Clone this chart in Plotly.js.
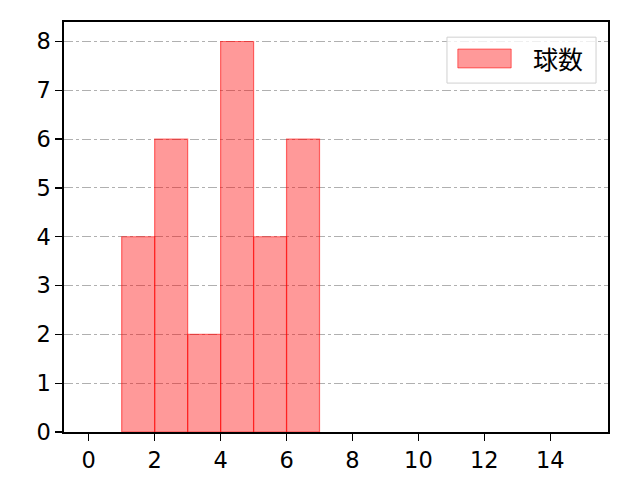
<!DOCTYPE html>
<html>
<head>
<meta charset="utf-8">
<script src="https://cdn.plot.ly/plotly-3.0.1.min.js"></script>
<style>
  html, body { margin: 0; padding: 0; background: white; }
  #chart { width: 640px; height: 480px; }
</style>
</head>
<body>
<div id="chart"></div>
<script>
// histogram bins (left edge, width 1) and counts
const binLeft = [1, 2, 3, 4, 5, 6];
const counts = [4, 6, 2, 8, 4, 6];
const seriesName = '球数';
const xTicks = [0, 2, 4, 6, 8, 10, 12, 14];
const yTicks = [0, 1, 2, 3, 4, 5, 6, 7, 8];

const FONT = '"Noto Sans CJK JP", "DejaVu Sans", sans-serif';
const TICK_FONT = '"DejaVu Sans", sans-serif';

const bars = {
    type: 'bar',
    x: binLeft,
    y: counts,
    width: binLeft.map(() => 1),
    offset: 0,
    name: seriesName,
    marker: {
        color: 'rgba(255, 0, 0, 0.4)',
        line: { color: 'rgba(255, 0, 0, 0.55)', width: 1.2 }
    },
    showlegend: false,
    hoverinfo: 'x+y'
};

const axisCommon = {
    ticks: 'outside',
    ticklen: 7,
    tickwidth: 1.3,
    tickcolor: 'black',
    tickfont: { family: TICK_FONT, size: 22.5, color: 'black' },
    showline: true,
    linecolor: 'black',
    linewidth: 1.6,
    mirror: true,
    zeroline: false
};

const layout = {
    width: 640,
    height: 480,
    plot_bgcolor: 'white',
    paper_bgcolor: 'white',
    font: { family: FONT, size: 22, color: 'black' },
    margin: { l: 64, r: 32, t: 22, b: 48, pad: 0 },
    bargap: 0,
    xaxis: Object.assign({}, axisCommon, {
        range: [-0.75, 15.75],
        tickvals: xTicks,
        ticktext: xTicks.map(String),
        showgrid: false
    }),
    yaxis: Object.assign({}, axisCommon, {
        range: [0, 8.4],
        tickvals: yTicks,
        ticktext: yTicks.map(String),
        showgrid: true,
        gridcolor: '#b0b0b0',
        gridwidth: 1,
        griddash: 'dashdot'
    }),
    shapes: [
        // legend frame
        {
            type: 'rect', xref: 'paper', yref: 'paper',
            x0: 0.704, x1: 0.978, y0: 0.851, y1: 0.963,
            line: { color: '#d0d0d0', width: 1 },
            fillcolor: 'rgba(255,255,255,0.8)'
        },
        // legend patch
        {
            type: 'rect', xref: 'paper', yref: 'paper',
            x0: 0.724, x1: 0.822, y0: 0.888, y1: 0.934,
            line: { color: 'rgba(255, 0, 0, 0.55)', width: 1 },
            fillcolor: 'rgba(255, 0, 0, 0.4)'
        }
    ],
    annotations: [
        {
            xref: 'paper', yref: 'paper',
            x: 0.858, y: 0.912,
            xanchor: 'left', yanchor: 'middle',
            text: seriesName,
            showarrow: false,
            font: { family: FONT, size: 25, color: 'black' }
        }
    ]
};

Plotly.newPlot('chart', [bars], layout, { displayModeBar: false, staticPlot: true });
</script>
</body>
</html>
